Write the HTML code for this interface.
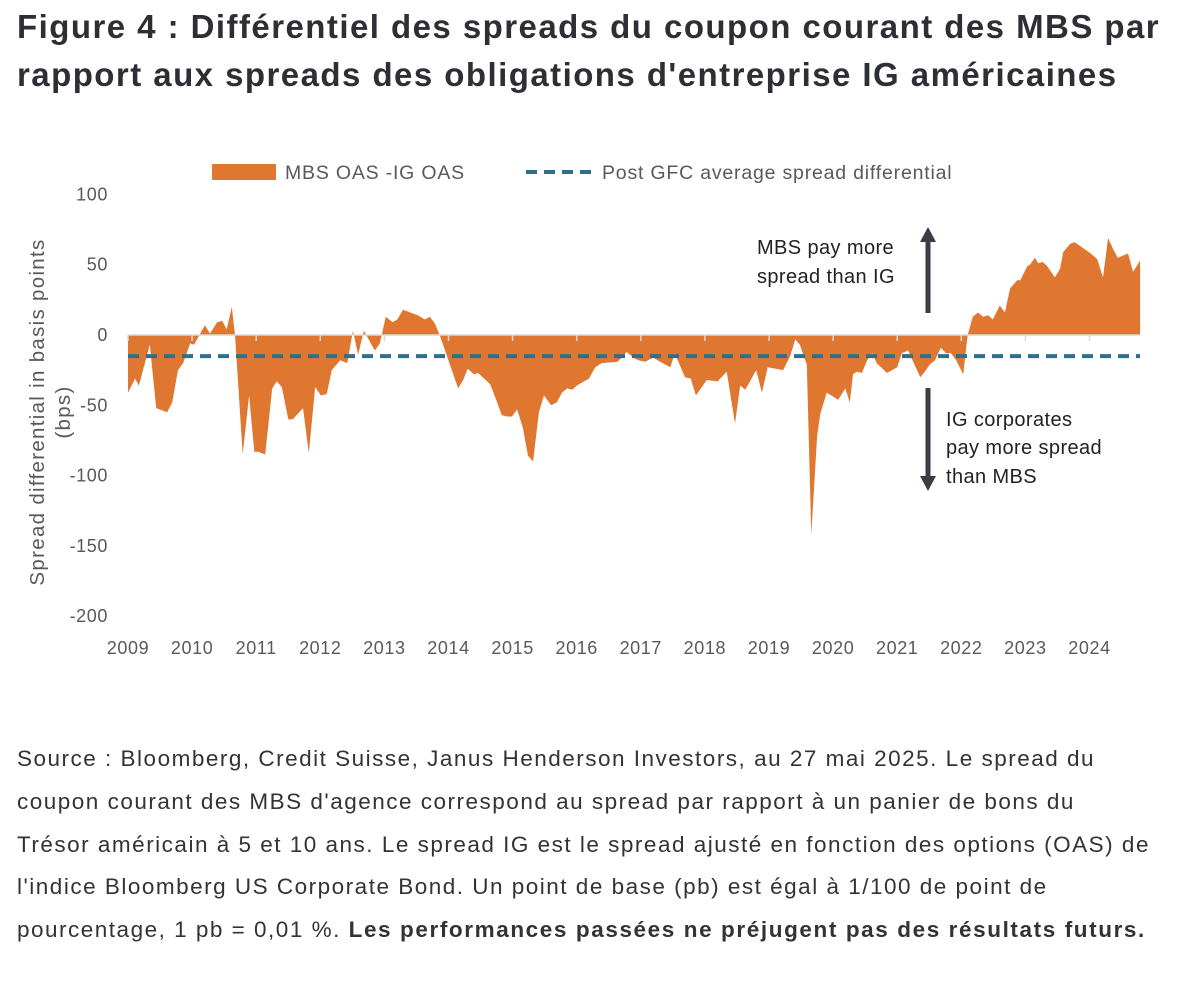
<!DOCTYPE html>
<html><head><meta charset="utf-8"><style>
body{margin:0;background:#fff;width:1196px;height:986px;overflow:hidden;font-family:"Liberation Sans",sans-serif;color:#333}
#title{position:absolute;left:17px;top:3px;font-size:33px;font-weight:bold;line-height:48px;color:#2e2e35;letter-spacing:1.45px;white-space:nowrap}
#src{position:absolute;left:17px;top:738px;font-size:22.5px;line-height:42.8px;color:#333;letter-spacing:1.5px;white-space:nowrap}
svg{position:absolute;left:0;top:0}
</style></head><body>
<div id="title">Figure 4 : Différentiel des spreads du coupon courant des MBS par<br>rapport aux spreads des obligations d'entreprise IG américaines</div>
<svg id="chart" width="1196" height="986"></svg>
<div id="src">Source : Bloomberg, Credit Suisse, Janus Henderson Investors, au 27 mai 2025. Le spread du<br>coupon courant des MBS d'agence correspond au spread par rapport à un panier de bons du<br>Trésor américain à 5 et 10 ans. Le spread IG est le spread ajusté en fonction des options (OAS) de<br>l'indice Bloomberg US Corporate Bond. Un point de base (pb) est égal à 1/100 de point de<br>pourcentage, 1 pb = 0,01 %. <b style="letter-spacing:1.6px">Les performances passées ne préjugent pas des résultats futurs.</b></div>
<script>
const dates=[0,.11,.17,.34,.44,.61,.69,.78,.86,.97,1.03,1.20,1.28,1.39,1.47,1.54,1.62,1.67,1.79,1.89,1.97,2.03,2.14,2.25,2.32,2.40,2.50,2.57,2.73,2.82,2.92,3.01,3.10,3.18,3.31,3.42,3.51,3.59,3.68,3.85,3.93,4.02,4.13,4.20,4.29,4.52,4.63,4.71,4.79,4.87,5.15,5.23,5.30,5.40,5.46,5.65,5.76,5.83,5.91,5.99,6.07,6.16,6.24,6.32,6.41,6.49,6.60,6.69,6.77,6.85,6.93,7.00,7.19,7.29,7.39,7.64,7.78,7.88,7.96,8.07,8.19,8.30,8.46,8.53,8.69,8.78,8.86,9.03,9.20,9.34,9.47,9.55,9.63,9.80,9.89,9.98,10.22,10.33,10.41,10.48,10.59,10.66,10.75,10.80,10.90,11.08,11.19,11.26,11.31,11.37,11.45,11.53,11.61,11.68,11.84,12.00,12.07,12.17,12.25,12.36,12.43,12.51,12.59,12.68,12.76,12.84,12.92,13.03,13.10,13.18,13.26,13.34,13.42,13.49,13.60,13.68,13.76,13.87,13.92,14.03,14.07,14.15,14.20,14.27,14.34,14.46,14.54,14.59,14.70,14.77,15.02,15.12,15.21,15.29,15.37,15.44,15.60,15.68,15.79];
const spread=[-41,-31,-36,-7,-52,-55,-48,-25,-20,-6,-7,7,1,9,10,4,20,0,-85,-43,-83,-83,-85,-38,-33,-37,-60,-60,-52,-84,-37,-43,-42,-25,-18,-20,3,-14,3,-11,-6,13,9,11,18,14,11,13,8,-1,-38,-32,-24,-28,-27,-35,-48,-57,-58,-58,-53,-66,-86,-90,-55,-43,-50,-48,-41,-38,-39,-36,-31,-23,-20,-19,-12,-16,-18,-19,-16,-19,-23,-13,-30,-31,-43,-32,-33,-26,-63,-36,-39,-25,-41,-23,-25,-15,-3,-7,-21,-142,-72,-56,-41,-46,-38,-48,-28,-26,-27,-18,-13,-20,-27,-23,-13,-11,-19,-30,-26,-21,-18,-9,-13,-13,-18,-28,0,13,16,13,14,11,21,16,33,39,39,49,50,55,51,52,49,41,47,59,65,66,58,54,41,69,61,55,58,45,53,66,67];
const avgSpread=-15;
const yTicks=[100,50,0,-50,-100,-150,-200];
const xLabels=["2009","2010","2011","2012","2013","2014","2015","2016","2017","2018","2019","2020","2021","2022","2023","2024"];
const svg=document.getElementById('chart');const NS='http://www.w3.org/2000/svg';
const X=t=>128+t*64.1, Y=v=>335-v*1.406;
function mk(tag,a,p){const e=document.createElementNS(NS,tag);for(const k in a)e.setAttribute(k,a[k]);(p||svg).appendChild(e);return e;}
let d='M'+X(dates[0])+','+Y(0);
dates.forEach((t,i)=>d+='L'+X(t).toFixed(1)+','+Y(spread[i]).toFixed(1));
d+='L'+X(dates[dates.length-1])+','+Y(0)+'Z';
const area=mk('path',{d:d,fill:'#e07730'});


const ax=mk('line',{x1:128,x2:1140,y1:Y(0),y2:Y(0),stroke:'#d9d9d9','stroke-width':1.5});


xLabels.forEach((l,i)=>{
 const tk=mk('line',{x1:X(i),x2:X(i),y1:Y(0),y2:Y(0)+6,stroke:'#d9d9d9','stroke-width':1.5});
 
 
 const tx=mk('text',{x:X(i),y:654,'text-anchor':'middle','font-size':18,'letter-spacing':0.6,fill:'#595959'});tx.textContent=l;
 
 
});
yTicks.forEach(v=>{
 const tx=mk('text',{x:108,y:Y(v)+6,'text-anchor':'end','font-size':18,'letter-spacing':0.6,fill:'#595959'});tx.textContent=v;
 
 
});
const avg=mk('line',{x1:128,x2:1140,y1:Y(avgSpread),y2:Y(avgSpread),stroke:'#2e6f8e','stroke-width':4,'stroke-dasharray':'11 7'});


const yt=mk('text',{x:0,y:0,transform:'translate(44,412) rotate(-90)','text-anchor':'middle','font-size':20.5,'letter-spacing':1.3,fill:'#595959'});


const t1=mk('tspan',{x:0,dy:0},yt);t1.textContent='Spread differential in basis points';
const t2=mk('tspan',{x:0,dy:26},yt);t2.textContent='(bps)';
const lg=mk('g',{});


mk('rect',{x:212,y:164,width:64,height:16,fill:'#e07730'},lg);
const l1=mk('text',{x:285,y:179,'font-size':19.5,'letter-spacing':0.8,fill:'#595959'},lg);l1.textContent='MBS OAS -IG OAS';
mk('line',{x1:526,x2:594,y1:172,y2:172,stroke:'#2e6f8e','stroke-width':4,'stroke-dasharray':'11 7'},lg);
const l2=mk('text',{x:602,y:179,'font-size':19.5,'letter-spacing':0.8,fill:'#595959'},lg);l2.textContent='Post GFC average spread differential';
const an=mk('g',{});


[['MBS pay more',757,254],['spread than IG',757,283],['IG corporates',946,426],['pay more spread',946,454],['than MBS',946,483]].forEach(a=>{
 const t=mk('text',{x:a[1],y:a[2],'font-size':20,'letter-spacing':0.4,fill:'#222'},an);t.textContent=a[0];});
mk('line',{x1:928,x2:928,y1:313,y2:240,stroke:'#3a3d45','stroke-width':5},an);
mk('polygon',{points:'920,242 936,242 928,227',fill:'#3a3d45'},an);
mk('line',{x1:928,x2:928,y1:388,y2:478,stroke:'#3a3d45','stroke-width':5},an);
mk('polygon',{points:'920,476 936,476 928,491',fill:'#3a3d45'},an);
</script>
</body></html>
